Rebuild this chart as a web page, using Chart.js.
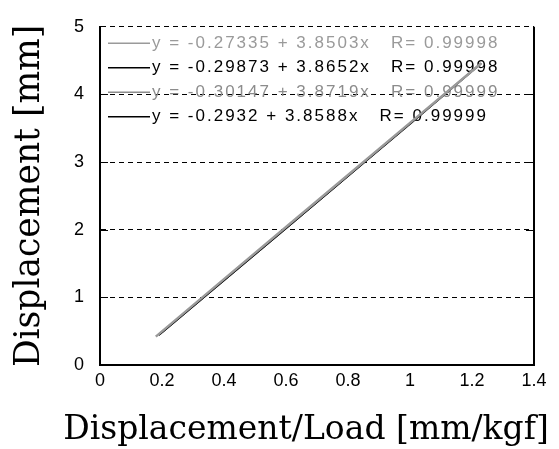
<!DOCTYPE html>
<html>
<head>
<meta charset="utf-8">
<script src="https://cdn.jsdelivr.net/npm/chart.js@4/dist/chart.umd.min.js"></script>
<style>
  html, body { margin: 0; padding: 0; background: #fff; }
  #chart { display: block; }
</style>
</head>
<body>
<canvas id="chart" width="559" height="449"></canvas>
<script>
'use strict';

// values
const xTickValues = [0, 0.2, 0.4, 0.6, 0.8, 1.0, 1.2, 1.4];
const xTickLabels = ['0', '0.2', '0.4', '0.6', '0.8', '1', '1.2', '1.4'];
const yTickValues = [0, 1, 2, 3, 4, 5];
const yTickLabels = ['0', '1', '2', '3', '4', '5'];

const xLoad1 = [0.18, 0.40, 0.60, 0.80, 1.00, 1.23];
const yDisp1 = [0.42, 1.27, 2.04, 2.81, 3.58, 4.46];
const xLoad2 = [0.19, 0.40, 0.60, 0.80, 1.00, 1.23];
const yDisp2 = [0.44, 1.25, 2.02, 2.79, 3.57, 4.46];
const xLoad3 = [0.19, 0.40, 0.60, 0.80, 1.00, 1.22];
const yDisp3 = [0.44, 1.25, 2.02, 2.80, 3.57, 4.43];
const xLoad4 = [0.20, 0.40, 0.60, 0.80, 1.00, 1.22];
const yDisp4 = [0.48, 1.25, 2.02, 2.79, 3.56, 4.42];

const fitLabels = [
  'y = -0.27335 + 3.8503x   R= 0.99998',
  'y = -0.29873 + 3.8652x   R= 0.99998',
  'y = -0.30147 + 3.8719x   R= 0.99999',
  'y = -0.2932 + 3.8588x   R= 0.99999'
];
const seriesColors = ['#9a9a9a', '#000000', '#8c8c8c', '#000000'];

const xTitle = 'Displacement/Load [mm/kgf]';
const yTitle = 'Displacement [mm]';

function toPoints(xs, ys) {
  return xs.map((x, i) => ({x: x, y: ys[i]}));
}

const datasets = [
  [xLoad1, yDisp1], [xLoad2, yDisp2], [xLoad3, yDisp3], [xLoad4, yDisp4]
].map((pair, i) => ({
  label: fitLabels[i],
  data: toPoints(pair[0], pair[1]),
  borderColor: seriesColors[i],
  borderWidth: i === 0 ? 2.5 : 1.5,
  pointRadius: 0,
  fill: false,
  tension: 0
}));

// legend drawn inside the plot, under the lines
const insideLegend = {
  id: 'insideLegend',
  beforeDatasetsDraw(chart) {
    const ctx = chart.ctx;
    const area = chart.chartArea;
    const rows = [16.5, 41, 65.5, 90];
    ctx.save();
    ctx.font = '17px "Liberation Sans", Arial, sans-serif';
    ctx.textBaseline = 'middle';
    ctx.textAlign = 'left';
    if ('letterSpacing' in ctx) ctx.letterSpacing = '2px';
    chart.data.datasets.forEach((ds, i) => {
      const y = area.top + rows[i];
      ctx.strokeStyle = ds.borderColor;
      ctx.lineWidth = 1.5;
      ctx.beginPath();
      ctx.moveTo(area.left + 8, y);
      ctx.lineTo(area.left + 50, y);
      ctx.stroke();
      ctx.fillStyle = ds.borderColor;
      ctx.fillText(ds.label, area.left + 52, y);
    });
    ctx.restore();
  }
};

// right border, inward ticks, and the x title (wider than the plot)
const frame = {
  id: 'frame',
  afterDraw(chart) {
    const ctx = chart.ctx;
    const area = chart.chartArea;
    const yScale = chart.scales.y;
    ctx.save();
    ctx.strokeStyle = '#000';
    ctx.lineWidth = 2;
    ctx.beginPath();
    ctx.moveTo(area.right, area.top);
    ctx.lineTo(area.right, area.bottom + 1);
    ctx.stroke();
    ctx.lineWidth = 1;
    yTickValues.forEach(v => {
      if (v === 0 || v === 5) return;
      const py = Math.round(yScale.getPixelForValue(v)) + 0.5;
      ctx.beginPath();
      ctx.moveTo(area.left, py);
      ctx.lineTo(area.left + 8, py);
      ctx.moveTo(area.right - 8, py);
      ctx.lineTo(area.right, py);
      ctx.stroke();
    });

    ctx.fillStyle = '#000';
    ctx.font = '33px "DejaVu Serif", serif';
    ctx.textAlign = 'center';
    ctx.textBaseline = 'middle';
    ctx.fillText(xTitle, area.left + 206, area.bottom + 65);
    ctx.restore();
  }
};

const tickFont = {family: '"Liberation Sans", Arial, sans-serif', size: 18};

new Chart(document.getElementById('chart'), {
  type: 'line',
  data: {datasets: datasets},
  options: {
    responsive: false,
    animation: false,
    layout: {padding: {top: 21, right: 25, left: 0, bottom: 0}},
    plugins: {
      legend: {display: false},
      tooltip: {enabled: false}
    },
    scales: {
      x: {
        type: 'linear',
        min: 0,
        max: 1.4,
        afterFit(scale) { scale.height = 84; },
        afterBuildTicks(scale) {
          scale.ticks = xTickValues.map(v => ({value: v}));
        },
        grid: {display: true, color: 'transparent', drawTicks: false},
        border: {display: true, color: '#000', width: 2},
        ticks: {
          font: tickFont,
          color: '#000',
          padding: 5,
          maxRotation: 0,
          autoSkip: false,
          callback: (v, i) => xTickLabels[i]
        },
        title: {display: false}
      },
      y: {
        type: 'linear',
        min: 0,
        max: 5,
        afterFit(scale) { scale.width = 100; },
        afterBuildTicks(scale) {
          scale.ticks = yTickValues.map(v => ({value: v}));
        },
        grid: {
          drawTicks: false,
          color: ctx => (ctx.tick && ctx.tick.value === 0) ? 'transparent' : '#000',
          lineWidth: 1
        },
        border: {display: true, color: '#000', width: 2, dash: [5, 4]},
        ticks: {
          font: tickFont,
          color: '#000',
          padding: 16,
          autoSkip: false,
          callback: (v, i) => yTickLabels[i]
        },
        title: {
          display: true,
          text: yTitle,
          font: {family: '"DejaVu Serif", serif', size: 34.5, lineHeight: 1},
          color: '#000',
          padding: {top: 13, bottom: 0}
        }
      }
    }
  },
  plugins: [insideLegend, frame]
});
</script>
</body>
</html>
